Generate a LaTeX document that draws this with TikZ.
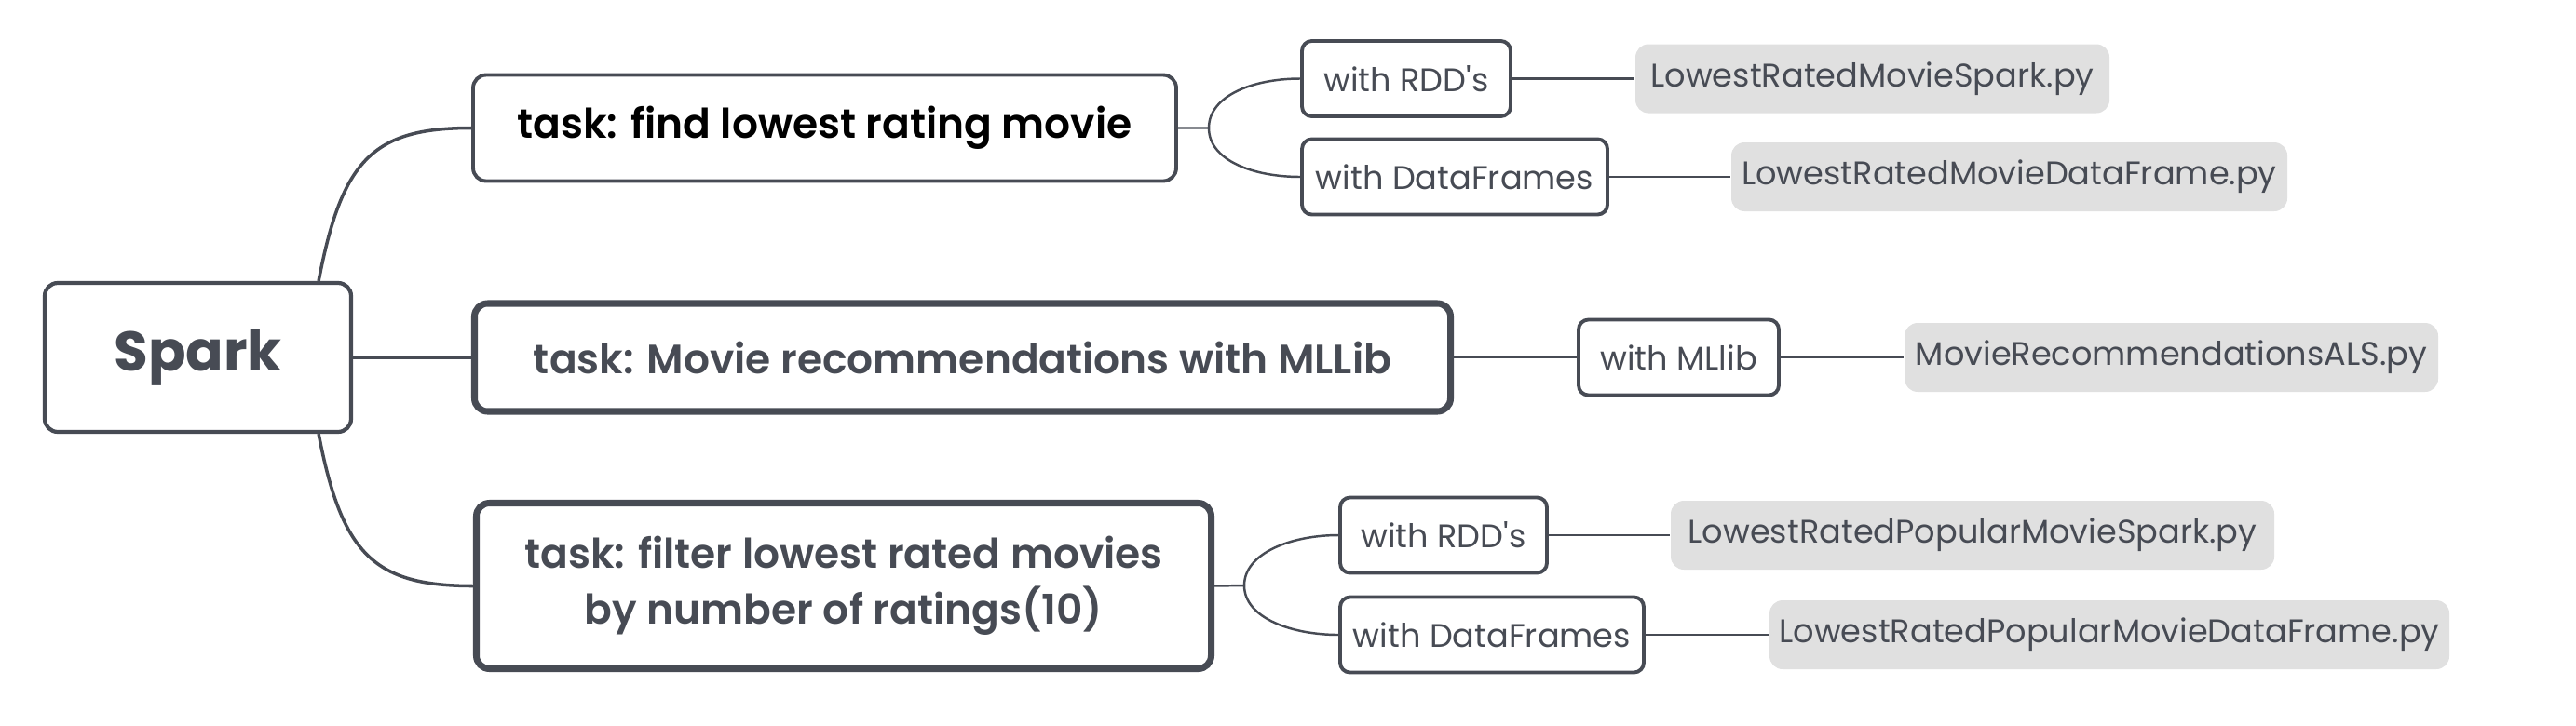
\documentclass[tikz,border=0pt]{standalone}
\usepackage{fontspec}
\setmainfont{Poppins}
\newfontfamily\semib{Poppins SemiBold}
\usetikzlibrary{positioning}
\definecolor{ink}{HTML}{474B54}
\definecolor{filegray}{HTML}{E0E0E0}

\begin{document}
\begin{tikzpicture}[
    root/.style={draw=ink, line width=1.2pt, rounded corners=4pt, text=ink,
        font=\fontsize{17}{20}\selectfont\bfseries, minimum width=3.29cm, minimum height=1.60cm},
    task/.style={draw=ink, line width=1.1pt, rounded corners=4pt, text=ink,
        font=\fontsize{12.5}{17}\selectfont\semib, align=center},
    heavy/.style={line width=2pt},
    way/.style={draw=ink, line width=1.1pt, rounded corners=3pt, text=ink,
        font=\fontsize{10}{11}\selectfont, minimum height=0.81cm, inner sep=2pt},
    file/.style={fill=filegray, rounded corners=4pt, text=ink,
        font=\fontsize{10}{11}\selectfont, minimum height=0.74cm, inner sep=2pt},
    branch/.style={draw=ink, line width=1pt},
    twig/.style={draw=ink, line width=0.7pt}]

    \useasboundingbox (0,0) rectangle (27.66,-7.79);

    \node [root] (spark) at (2.125,-3.84) {Spark};
    \node [task, text=black, minimum width=7.55cm, minimum height=1.14cm] (t1) at (8.855,-1.375) {task: find lowest rating movie};
    \node [task, heavy, minimum width=10.48cm, minimum height=1.16cm] (t2) at (10.335,-3.84) {task: Movie recommendations with MLLib};
    \node [task, heavy, minimum width=7.89cm, minimum height=1.78cm] (t3) at (9.06,-6.295) {task: filter lowest rated movies\\by number of ratings(10)};

    \node [way, minimum width=2.24cm] (rdd1) at (15.10,-0.845) {with RDD\textquotesingle s};
    \node [way, minimum width=3.28cm] (df1) at (15.62,-1.90) {with DataFrames};
    \node [way, minimum width=2.15cm] (ml2) at (18.025,-3.84) {with MLlib};
    \node [way, minimum width=2.22cm] (rdd3) at (15.50,-5.75) {with RDD\textquotesingle s};
    \node [way, minimum width=3.26cm] (df3) at (16.02,-6.82) {with DataFrames};

    \node [file, minimum width=5.09cm] (f1) at (20.105,-0.845) {LowestRatedMovieSpark.py};
    \node [file, minimum width=5.97cm] (f2) at (21.575,-1.90) {LowestRatedMovieDataFrame.py};
    \node [file, minimum width=5.73cm] (f3) at (23.315,-3.84) {MovieRecommendationsALS.py};
    \node [file, minimum width=6.48cm] (f4) at (21.18,-5.75) {LowestRatedPopularMovieSpark.py};
    \node [file, minimum width=7.30cm] (f5) at (22.65,-6.82) {LowestRatedPopularMovieDataFrame.py};

    \coordinate (fork1) at (12.98,-1.375);
    \coordinate (fork3) at (13.36,-6.29);

    \path [branch]
      ([xshift=-3.7mm]spark.north east) .. controls +(0.25,1.3) and +(-1.06,0) .. (t1.west)
      ([xshift=-3.7mm]spark.south east) .. controls +(0.25,-1.3) and +(-1.06,0) .. (t3.west)
      (spark) edge (t2);
    \path [twig]
      (t1.east) -- (fork1)
      (fork1) .. controls +(0,0.35) and +(-0.5,0) .. (rdd1.west)
      (fork1) .. controls +(0,-0.35) and +(-0.5,0) .. (df1.west)
      (t3.east) -- (fork3)
      (fork3) .. controls +(0,0.35) and +(-0.5,0) .. (rdd3.west)
      (fork3) .. controls +(0,-0.35) and +(-0.5,0) .. (df3.west)
      (t2) edge (ml2)
      (rdd1) edge (f1)
      (df1) edge (f2)
      (ml2) edge (f3)
      (rdd3) edge (f4)
      (df3) edge (f5);
\end{tikzpicture}
\end{document}
